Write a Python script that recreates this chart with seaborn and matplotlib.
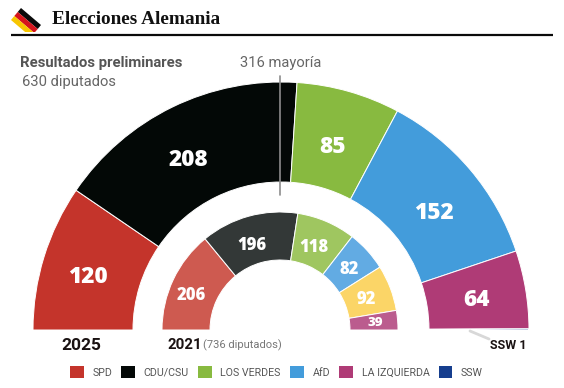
import matplotlib
matplotlib.use("Agg")
import matplotlib.pyplot as plt
from matplotlib.patches import Patch, Polygon
import seaborn as sns

# Datos
partidos = ['SPD', 'CDU/CSU', 'LOS VERDES', 'AfD', 'LA IZQUIERDA', 'SSW']
escanos_2025 = [120, 208, 85, 152, 64, 1]
colores_2025 = ['#C4342B', '#030806', '#88BA40', '#439CDB', '#AF3B76', '#163E8E']

escanos_2021 = [206, 196, 118, 82, 92, 39]
colores_2021 = ['#CE5A50', '#333837', '#9FC660', '#62ABE3', '#FBD567', '#BB5C8E']

# Posicion de las etiquetas en pixeles
pos_2025 = [(88, 277), (188, 160), (333, 147), (434, 213), (476, 300)]
pos_2021 = [(191, 295), (252, 245), (314, 247), (349, 269), (366, 299), (375, 323)]

sns.set_theme(style="white")
plt.rcParams['font.family'] = ['Roboto', 'DejaVu Sans']

fig = plt.figure(figsize=(5.64, 3.88), dpi=100)
ax = fig.add_axes([0, 0, 1, 1])


def semicirculo(valores, colores, cx, cy, r_ext, r_int):
    # la mitad oculta de la tarta deja visible solo el arco superior
    wedges, _ = ax.pie(list(valores) + [sum(valores)], colors=list(colores) + ['white'],
                       startangle=180, radius=r_ext, center=(cx, cy),
                       wedgeprops=dict(width=r_ext - r_int, edgecolor='white', linewidth=0.7))
    wedges[-1].set_visible(False)


semicirculo(escanos_2025, colores_2025, 281, 330, 248, 148)
semicirculo(escanos_2021, colores_2021, 280, 330, 118, 70)

# pixeles de la imagen como coordenadas (y hacia abajo)
ax.set_xlim(0, 564)
ax.set_ylim(388, 0)
ax.set_aspect('auto')
ax.axis('off')

for valor, (x, y) in zip(escanos_2025, pos_2025):
    ax.text(x, y, str(valor), color='white', fontsize=16.3, fontweight=800,
            family='Open Sans', ha='center', va='center')
for i, (valor, (x, y)) in enumerate(zip(escanos_2021, pos_2021)):
    ax.text(x, y, str(valor), color='white', fontsize=9.5 if i == 5 else 12, fontweight=800,
            family='Open Sans', ha='center', va='center')

# Linea de mayoria
ax.plot([280, 280], [76, 195], color='#8C8C8C', linewidth=1.2)
ax.text(281, 63, '316 mayoría', color='#666666', fontsize=10.6, ha='center', va='center')

# Cabecera: bandera girada, recortada abajo
ax.add_patch(Polygon([(21, 8), (41, 25), (37.7, 29), (17.7, 12)], color='#0A0A0A', lw=0))
ax.add_patch(Polygon([(17.7, 12), (37.7, 29), (35.1, 32), (33.1, 32), (14.3, 16)], color='#D5141C', lw=0))
ax.add_patch(Polygon([(14.3, 16), (33.1, 32), (25.1, 32), (11, 20)], color='#F7C600', lw=0))
ax.text(52.5, 20, 'Elecciones Alemania', color='#111111', fontsize=13.9, fontweight='bold',
        family='Liberation Serif', ha='left', va='center')
ax.plot([11, 553], [34.5, 34.5], color='#0A0A0A', linewidth=1.6, solid_capstyle='butt')

ax.text(20, 63, 'Resultados preliminares', color='#555555', fontsize=10.7, fontweight='bold',
        ha='left', va='center')
ax.text(22, 82, '630 diputados', color='#666666', fontsize=10.6, ha='left', va='center')

# Textos inferiores
ax.text(81, 345, '2025', color='#1A1212', fontsize=12.5, fontweight='bold', ha='center', va='center')
ax.text(167.5, 345, '2021', color='#1A1212', fontsize=10.8, fontweight='bold', ha='left', va='center')
ax.text(203, 345.5, '(736 diputados)', color='#777777', fontsize=8, ha='left', va='center')
ax.text(490, 345.5, 'SSW 1', color='#1A1212', fontsize=9, fontweight='bold', ha='left', va='center')
ax.plot([470, 489], [331, 339], color='#D8D8D8', linewidth=2)

# Leyenda
handles = [Patch(facecolor=c, edgecolor='none') for c in colores_2025]
fig.legend(handles, partidos, loc='center', bbox_to_anchor=(0.49, 1 - 372 / 388), ncol=6, frameon=False,
           fontsize=7.7, labelcolor='#555555', handlelength=1.3, handleheight=1.3,
           handletextpad=0.8, columnspacing=0.85, borderpad=0)

fig.savefig('out.png', dpi=100)
